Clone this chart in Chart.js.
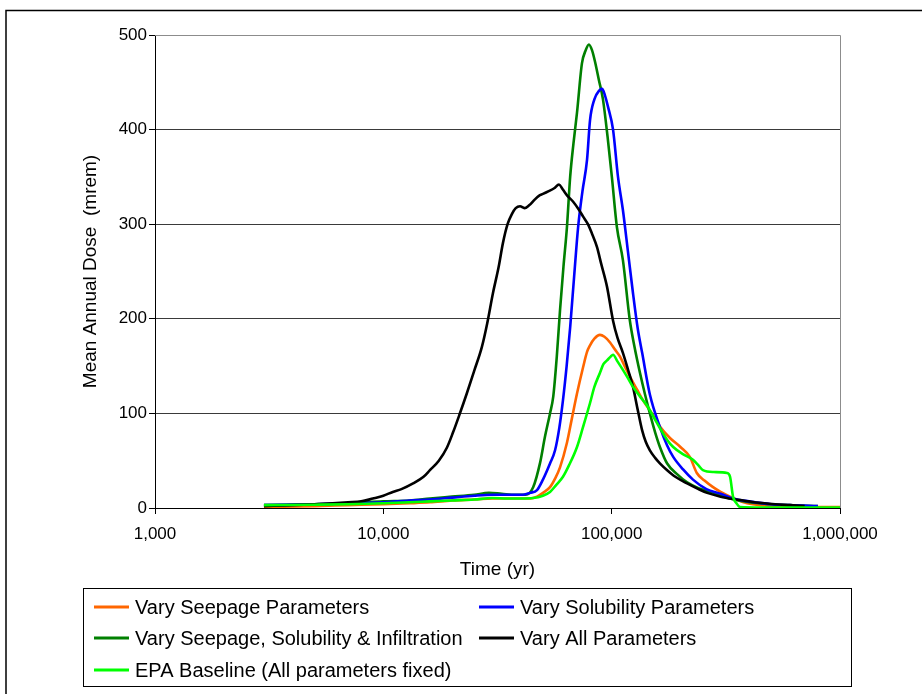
<!DOCTYPE html>
<html>
<head>
<meta charset="utf-8">
<script src="https://cdn.jsdelivr.net/npm/chart.js@4.4.1/dist/chart.umd.min.js"></script>
<style>
  html, body { margin: 0; padding: 0; background: #fff; }
  #wrap { width: 922px; height: 694px; position: relative; }
</style>
</head>
<body>
<div id="wrap"><canvas id="c" width="922" height="694"></canvas></div>
<script>
// ---- Data ----
const xTickValues = [1000, 10000, 100000, 1000000];
const yTickValues = [0, 100, 200, 300, 400, 500];

const seepageTime = [3000, 5000, 7000, 10000, 13000, 16000, 20000, 25000, 30000, 35000, 40000, 44000, 47100, 50000, 53700, 56500, 59400, 63700, 67000, 70500, 75000, 78000, 80400, 84000, 88900, 93000, 98400, 103000, 108800, 115000, 122000, 130000, 137000, 150000, 163000, 180000, 200000, 220000, 236000, 255000, 278000, 300000, 330000, 360000, 392000, 450000, 600000, 800000, 1000000];
const seepageDose = [1, 2, 3, 4, 5, 6, 8, 9, 10, 10, 10, 10, 12, 16, 22, 31, 43, 69, 95, 121, 149, 165, 172, 179, 183, 181, 175, 168, 160, 148, 136, 124, 114, 100, 86, 74, 64.5, 54, 37, 29, 22, 17, 12, 8, 5, 3, 2, 1, 1];

const solubilityTime = [3000, 5000, 7000, 10000, 13000, 16000, 20000, 25000, 30000, 35000, 40900, 44000, 47100, 50000, 53700, 56500, 59000, 61200, 63500, 65800, 68500, 71300, 74500, 78000, 80400, 84000, 88000, 90800, 93500, 96400, 101400, 106600, 112000, 118000, 124000, 130000, 136000, 147000, 163000, 175000, 186000, 205000, 227000, 260000, 300000, 340000, 400000, 500000, 600000, 800000];
const solubilityDose = [3, 4, 5, 6, 8, 9, 11, 13, 14, 14, 14, 16, 19, 30, 47, 61, 85, 114, 150, 191, 245, 297, 335, 368, 410, 432, 441, 443, 436, 424, 400, 350, 315, 270, 227, 190, 164, 120, 85, 66, 54, 41, 30, 20, 15, 10, 7, 4, 3, 2];

const combinedTime = [3000, 5000, 7000, 10000, 13000, 16000, 20000, 25000, 29000, 33000, 38000, 42000, 45300, 48600, 51000, 53700, 55500, 57500, 59400, 61500, 63700, 65800, 68000, 70500, 74100, 77000, 79500, 82000, 84500, 88000, 91600, 96000, 100200, 105400, 112000, 120000, 126000, 133000, 140000, 147000, 155000, 163000, 175000, 195000, 214000, 240000, 280000, 330000, 400000, 500000, 600000, 800000];
const combinedDose = [3, 4, 5, 7, 8, 10, 12, 14, 16, 15, 14, 14, 22, 48, 75, 100, 118, 160, 209, 255, 297, 350, 385, 418, 470, 484, 490, 484, 472, 452, 432, 392, 350, 297, 262, 199, 170, 143, 120, 100, 80, 64, 47, 35, 27, 21, 16, 10, 6, 4, 3, 2];

const allTime = [3000, 4000, 5000, 6000, 7000, 8000, 9000, 10000, 11000, 12000, 13500, 15000, 16000, 17500, 19000, 20200, 21500, 23200, 25000, 27000, 28500, 30200, 32000, 33400, 35000, 36600, 38000, 39700, 41500, 43500, 46000, 48000, 50000, 53000, 56000, 58800, 61000, 64000, 67700, 72000, 75000, 78700, 82000, 86200, 90000, 95400, 101400, 106000, 112000, 118000, 124000, 130000, 136000, 141000, 147000, 155000, 163000, 175000, 190000, 214000, 240000, 262000, 300000, 340000, 400000, 445000, 520000, 605000, 700000];
const allDose = [2, 3, 4, 5, 6, 7, 10, 13, 17, 20, 26, 33, 40, 50, 64, 80, 98, 121, 145, 170, 195, 227, 255, 280, 300, 311, 317, 319, 317, 320, 326, 330, 332, 335, 338, 342, 337, 330, 324, 315, 308, 300, 290, 276, 258, 234, 198, 180, 164, 146, 128, 104, 82, 70, 61, 53, 47, 40, 33, 26, 20, 16, 12, 9.5, 7, 5.5, 4, 3, 2];

const baselineTime = [3000, 5000, 7000, 10000, 13000, 16000, 20000, 25000, 30000, 35000, 40000, 45300, 50000, 53700, 57000, 61200, 65000, 70500, 75000, 80400, 84000, 88900, 92000, 95400, 99000, 101400, 106000, 112000, 118000, 124000, 133000, 143000, 152000, 163000, 175000, 186000, 205000, 227000, 240000, 251000, 280000, 320000, 330000, 340000, 352000, 365000, 450000, 1000000];
const baselineDose = [3, 3.5, 4, 5, 6, 7, 8, 9, 10.5, 10, 10, 10.5, 13, 17, 24, 33, 45, 64.5, 86, 111, 128, 143, 152, 156, 160, 162, 155, 146, 137, 128, 118, 108, 97, 84, 72, 64.5, 57, 51, 45, 40, 38, 37, 33, 12, 5, 1, 0.5, 0.5];

const seriesLabels = [
  "Vary Seepage Parameters",
  "Vary Solubility Parameters",
  "Vary Seepage, Solubility & Infiltration",
  "Vary All Parameters",
  "EPA Baseline (All parameters fixed)"
];
const seriesColors = ["#FF6600", "#0000FF", "#008000", "#000000", "#00FF00"];

// ---- Build datasets ----
function pts(t, d) { return t.map((v, i) => ({ x: v, y: d[i] })); }
const seriesData = [
  pts(seepageTime, seepageDose),
  pts(solubilityTime, solubilityDose),
  pts(combinedTime, combinedDose),
  pts(allTime, allDose),
  pts(baselineTime, baselineDose)
];
// drawing order: lower "order" is drawn on top
const drawOrder = [4, 2, 3, 1, 0];

const datasets = seriesLabels.map((lab, i) => ({
  label: lab,
  data: seriesData[i],
  borderColor: seriesColors[i],
  backgroundColor: seriesColors[i],
  borderWidth: 2.6,
  pointRadius: 0,
  fill: false,
  cubicInterpolationMode: 'monotone',
  order: drawOrder[i]
}));

const FONT = "'Liberation Sans', Arial, sans-serif";

// Frame, plot border and legend plugin
const decorPlugin = {
  id: 'decor',
  beforeDraw(chart) {
    const ctx = chart.ctx;
    ctx.save();
    ctx.fillStyle = '#fff';
    ctx.fillRect(0, 0, chart.width, chart.height);
    ctx.strokeStyle = '#000';
    ctx.lineWidth = 1.5;
    ctx.beginPath();
    ctx.moveTo(6, chart.height);
    ctx.lineTo(6, 10.5);
    ctx.lineTo(chart.width, 10.5);
    ctx.stroke();
    ctx.restore();
  },
  beforeDatasetsDraw(chart) {
    const { ctx, chartArea: a } = chart;
    ctx.save();
    ctx.strokeStyle = '#8c8c8c';
    ctx.lineWidth = 1;
    ctx.beginPath();
    ctx.moveTo(a.left, a.top + 0.5);
    ctx.lineTo(a.right + 0.5, a.top + 0.5);
    ctx.lineTo(a.right + 0.5, a.bottom);
    ctx.stroke();
    ctx.restore();
  },
  afterDraw(chart) {
    const ctx = chart.ctx;
    ctx.save();
    // legend box
    ctx.strokeStyle = '#000';
    ctx.lineWidth = 1;
    ctx.strokeRect(83.5, 588.5, 768, 98);
    const cols = [{ lx: 94, tx: 135 }, { lx: 479, tx: 520 }];
    const rows = [607, 638, 670];
    ctx.font = "20px " + FONT;
    ctx.textBaseline = 'middle';
    ctx.textAlign = 'left';
    chart.data.datasets.forEach((ds, i) => {
      const c = cols[i % 2], r = rows[Math.floor(i / 2)];
      ctx.strokeStyle = ds.borderColor;
      ctx.lineWidth = 3;
      ctx.beginPath();
      ctx.moveTo(c.lx, r);
      ctx.lineTo(c.lx + 35, r);
      ctx.stroke();
      ctx.fillStyle = '#000';
      ctx.fillText(ds.label, c.tx, r + 1);
    });
    ctx.restore();
  }
};

new Chart(document.getElementById('c'), {
  type: 'line',
  data: { datasets },
  plugins: [decorPlugin],
  options: {
    responsive: false,
    animation: false,
    events: [],
    layout: { padding: { left: 0, right: 82, top: 35, bottom: 106 } },
    plugins: { legend: { display: false }, tooltip: { enabled: false } },
    scales: {
      x: {
        type: 'logarithmic',
        min: 1000,
        max: 1000000,
        afterBuildTicks(scale) { scale.ticks = xTickValues.map(v => ({ value: v })); },
        afterFit(scale) { scale.height = 80; },
        ticks: {
          autoSkip: false,
          maxRotation: 0,
          padding: 10,
          color: '#000',
          font: { family: FONT, size: 17 },
          callback: (v) => Number(v).toLocaleString('en-US')
        },
        grid: { drawOnChartArea: false, drawTicks: true, tickLength: 6, color: '#000' },
        border: { display: true, color: '#000', width: 1 },
        title: {
          display: true,
          text: 'Time (yr)',
          color: '#000',
          font: { family: FONT, size: 19 },
          padding: { top: 0, bottom: 7 }
        }
      },
      y: {
        min: 0,
        max: 500,
        afterBuildTicks(scale) { scale.ticks = yTickValues.map(v => ({ value: v })); },
        afterFit(scale) { scale.width = 155; },
        ticks: {
          padding: 2,
          color: '#000',
          font: { family: FONT, size: 17 }
        },
        grid: {
          drawTicks: true,
          tickLength: 6,
          color: (c) => (c.tick && c.tick.value === 500 ? '#8c8c8c' : '#3a3a3a'),
          tickColor: '#000'
        },
        border: { display: true, color: '#000', width: 1 },
        title: {
          display: true,
          text: 'Mean Annual Dose  (mrem)',
          color: '#000',
          font: { family: FONT, size: 19 },
          padding: { top: 79, bottom: 0 }
        }
      }
    }
  }
});
</script>
</body>
</html>
